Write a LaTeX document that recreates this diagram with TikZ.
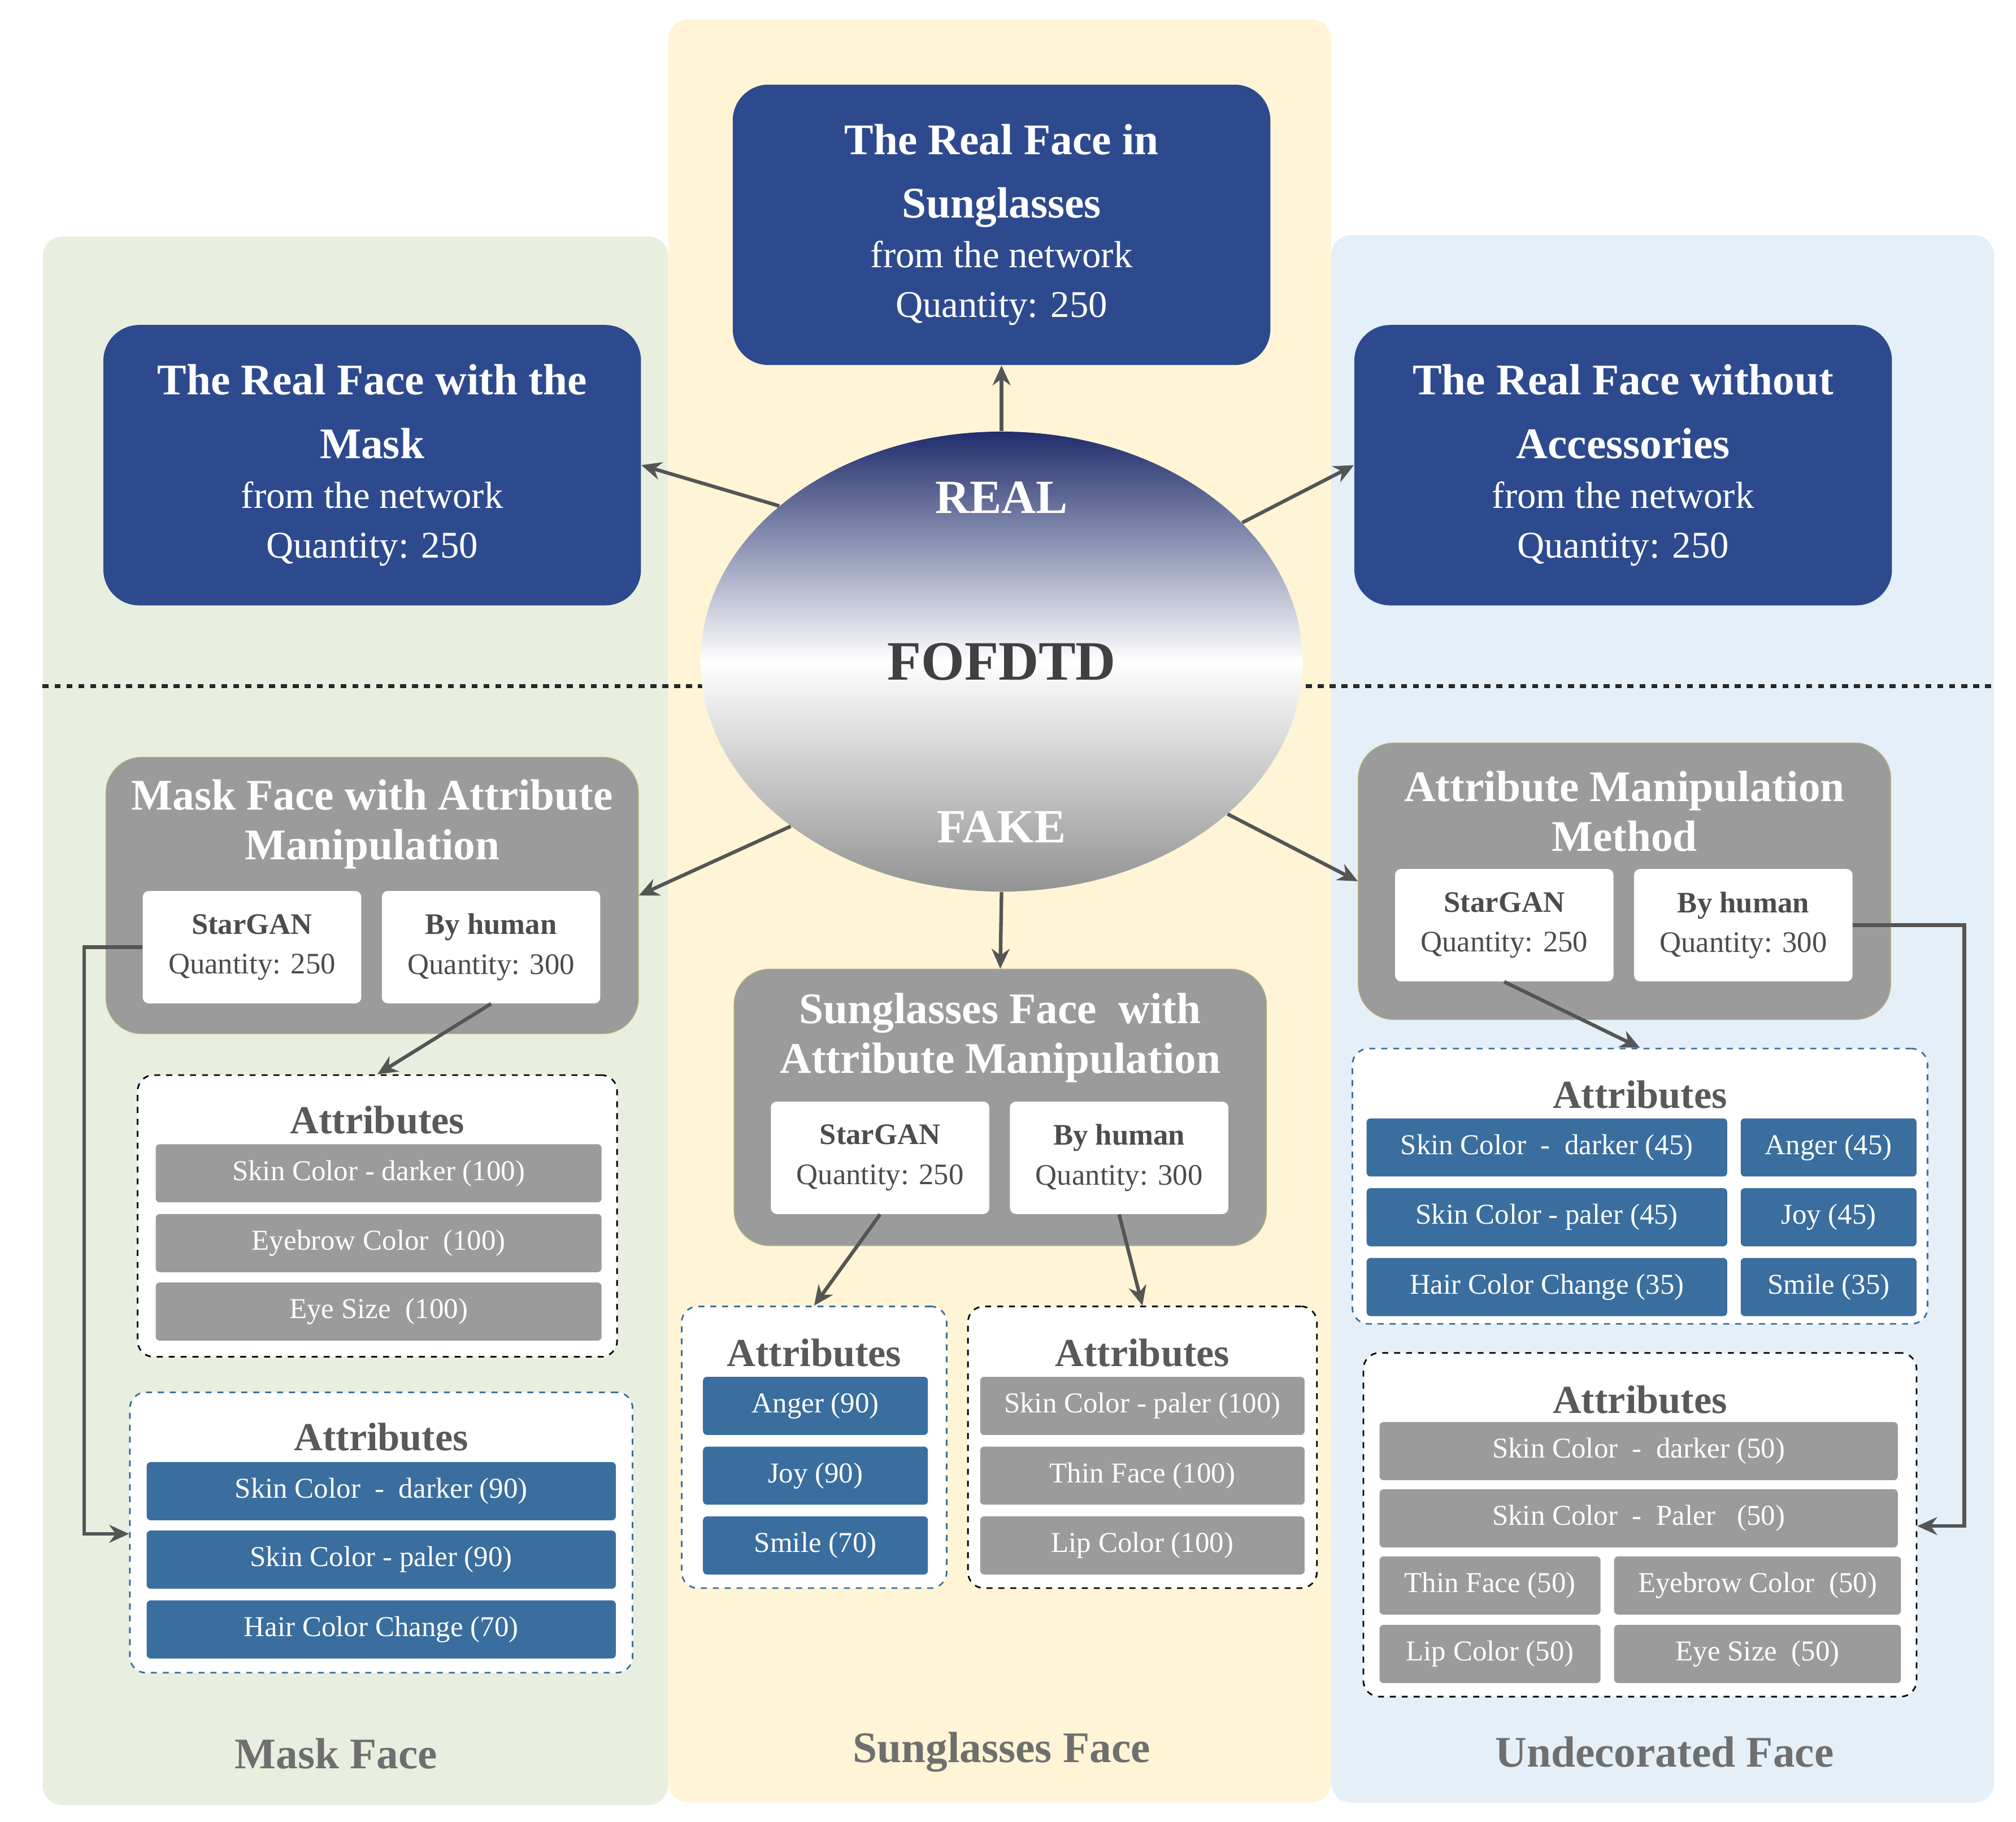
\documentclass[tikz,border=0pt]{standalone}
\usepackage{fontspec}
\setmainfont{Liberation Serif}
\usepackage{xcolor}
\usetikzlibrary{arrows.meta,positioning,shapes.geometric,calc}
\definecolor{navy}{HTML}{2E4A8E}
\definecolor{navytop}{HTML}{1F2D6B}
\definecolor{graybox}{HTML}{9B9B9B}
\definecolor{itemblue}{HTML}{3A6E9E}
\definecolor{bggreen}{HTML}{E9EFDF}
\definecolor{bgyellow}{HTML}{FFF5D6}
\definecolor{bgblue}{HTML}{E4EFF8}
\definecolor{arrowgray}{HTML}{555555}
\definecolor{labelgray}{HTML}{6F6F6F}
\newcommand\tfont{\bfseries\fontsize{22}{25}\selectfont}
\newcommand\nfont{\fontsize{19}{23}\selectfont}
\begin{document}
\begin{tikzpicture}[x=0.2287mm, y=-0.2287mm,
    panel/.style={draw=none, rounded corners=10pt},
    realbox/.style={rectangle, rounded corners=18pt, fill=navy, text=white, minimum width=416*0.2287mm, minimum height=217*0.2287mm, align=center, inner sep=2pt, font=\fontsize{19}{25}\selectfont},
    fakebox/.style={rectangle, rounded corners=18pt, fill=graybox, draw=graybox!80!yellow, minimum width=412*0.2287mm, minimum height=214*0.2287mm},
    whitebox/.style={rectangle, rounded corners=3pt, fill=white, minimum width=169*0.2287mm, minimum height=87*0.2287mm, align=center, text=black!70, font=\fontsize{15}{20}\selectfont},
    attrbox/.style={rectangle, rounded corners=8pt, fill=white, dashed, thick},
    gitem/.style={rectangle, rounded corners=2pt, fill=graybox, text=white, minimum height=45*0.2287mm, font=\fontsize{14.5}{17}\selectfont},
    bitem/.style={gitem, fill=itemblue},
    fttl/.style={text=white, align=center, font=\tfont},
    attrttl/.style={font=\bfseries\fontsize{20}{24}\selectfont, text=black!65},
    arrow/.style={-{Stealth[length=10pt,width=9pt]}, line width=1.8pt, arrowgray}
]
    \useasboundingbox (0,0) rectangle (1560,1410);

    % Backgrounds
    \fill[panel, bggreen] (33,183) rectangle (517,1397);
    \fill[panel, bgyellow] (517,15) rectangle (1030,1395);
    \fill[panel, bgblue] (1030,182) rectangle (1543,1395);
    \draw[line width=2.2pt, dash pattern=on 3pt off 3pt, black!85] (33,531) -- (1543,531);

    % Centre ellipse
    \node[ellipse, minimum width=466*0.2287mm, minimum height=356*0.2287mm, top color=navytop, bottom color=gray!85, middle color=white, shading angle=0] (ell) at (775,512) {};
    \node[font=\bfseries\fontsize{24}{28}\selectfont, text=white] (real) at (775,385) {REAL};
    \node[font=\bfseries\fontsize{28}{32}\selectfont, text=black!75] (name) at (775,512) {FOFDTD};
    \node[font=\bfseries\fontsize{24}{28}\selectfont, text=white] (fake) at (775,640) {FAKE};

    % Real faces
    \node[realbox] (rsun) at (775,174) {\tfont The Real Face in\\[7pt]\tfont Sunglasses\\\nfont from the network\\\nfont Quantity: 250};
    \node[realbox] (rmask) at (288,360) {\tfont The Real Face with the\\[7pt]\tfont Mask\\\nfont from the network\\\nfont Quantity: 250};
    \node[realbox] (rplain) at (1256,360) {\tfont The Real Face without\\[7pt]\tfont Accessories\\\nfont from the network\\\nfont Quantity: 250};

    % Fake faces
    \node[fakebox] (fmask) at (288,693) {};
    \node[fttl] at (288,638) {Mask Face with Attribute\\Manipulation};
    \node[whitebox] (msg) at (195,733) {\textbf{StarGAN}\\Quantity: 250};
    \node[whitebox] (mhu) at (380,733) {\textbf{By human}\\Quantity: 300};

    \node[fakebox] (fsun) at (774,857) {};
    \node[fttl] at (774,803) {Sunglasses Face \ with\\Attribute Manipulation};
    \node[whitebox] (ssg) at (681,896) {\textbf{StarGAN}\\Quantity: 250};
    \node[whitebox] (shu) at (866,896) {\textbf{By human}\\Quantity: 300};

    \node[fakebox] (fplain) at (1257,682) {};
    \node[fttl] at (1257,628) {Attribute Manipulation\\Method};
    \node[whitebox] (psg) at (1164,716) {\textbf{StarGAN}\\Quantity: 250};
    \node[whitebox] (phu) at (1349,716) {\textbf{By human}\\Quantity: 300};

    % Attribute groups, mask
    \node[attrbox, draw=black, minimum width=371*0.2287mm, minimum height=218*0.2287mm] (ma1) at (292,941) {};
    \node[attrttl] at (292,867) {Attributes};
    \node[gitem, minimum width=345*0.2287mm] at (293,908) {Skin Color - darker (100)};
    \node[gitem, minimum width=345*0.2287mm] at (293,962) {Eyebrow Color \ (100)};
    \node[gitem, minimum width=345*0.2287mm] at (293,1015) {Eye Size \ (100)};

    \node[attrbox, draw=itemblue, minimum width=389*0.2287mm, minimum height=217*0.2287mm] (ma2) at (295,1186) {};
    \node[attrttl] at (295,1112) {Attributes};
    \node[bitem, minimum width=363*0.2287mm] at (295,1154) {Skin Color \ - \ darker (90)};
    \node[bitem, minimum width=363*0.2287mm] at (295,1207) {Skin Color - paler (90)};
    \node[bitem, minimum width=363*0.2287mm] at (295,1261) {Hair Color Change (70)};

    % Attribute groups, sunglasses
    \node[attrbox, draw=itemblue, minimum width=205*0.2287mm, minimum height=218*0.2287mm] (sa1) at (630,1120) {};
    \node[attrttl] at (630,1047) {Attributes};
    \node[bitem, minimum width=174*0.2287mm] at (631,1088) {Anger (90)};
    \node[bitem, minimum width=174*0.2287mm] at (631,1142) {Joy (90)};
    \node[bitem, minimum width=174*0.2287mm] at (631,1196) {Smile (70)};

    \node[attrbox, draw=black, minimum width=270*0.2287mm, minimum height=218*0.2287mm] (sa2) at (884,1120) {};
    \node[attrttl] at (884,1047) {Attributes};
    \node[gitem, minimum width=251*0.2287mm] at (884,1088) {Skin Color - paler (100)};
    \node[gitem, minimum width=251*0.2287mm] at (884,1142) {Thin Face (100)};
    \node[gitem, minimum width=251*0.2287mm] at (884,1196) {Lip Color (100)};

    % Attribute groups, undecorated
    \node[attrbox, draw=itemblue, minimum width=445*0.2287mm, minimum height=213*0.2287mm] (pa1) at (1269,918) {};
    \node[attrttl] at (1269,847) {Attributes};
    \node[bitem, minimum width=279*0.2287mm] at (1197,888) {Skin Color \ - \ darker (45)};
    \node[bitem, minimum width=279*0.2287mm] at (1197,942) {Skin Color - paler (45)};
    \node[bitem, minimum width=279*0.2287mm] at (1197,996) {Hair Color Change (35)};
    \node[bitem, minimum width=136*0.2287mm] at (1415,888) {Anger (45)};
    \node[bitem, minimum width=136*0.2287mm] at (1415,942) {Joy (45)};
    \node[bitem, minimum width=136*0.2287mm] at (1415,996) {Smile (35)};

    \node[attrbox, draw=black, minimum width=428*0.2287mm, minimum height=266*0.2287mm] (pa2) at (1269,1180) {};
    \node[attrttl] at (1269,1083) {Attributes};
    \node[gitem, minimum width=401*0.2287mm] at (1268,1123) {Skin Color \ - \ darker (50)};
    \node[gitem, minimum width=401*0.2287mm] at (1268,1175) {Skin Color \ - \ Paler \ \ (50)};
    \node[gitem, minimum width=171*0.2287mm] at (1153,1227) {Thin Face (50)};
    \node[gitem, minimum width=171*0.2287mm] at (1153,1280) {Lip Color (50)};
    \node[gitem, minimum width=222*0.2287mm] at (1360,1227) {Eyebrow Color \ (50)};
    \node[gitem, minimum width=222*0.2287mm] at (1360,1280) {Eye Size \ (50)};

    % Panel labels
    \node[font=\bfseries\fontsize{22}{26}\selectfont, text=labelgray] (lmask) at (260,1357) {Mask Face};
    \node[font=\bfseries\fontsize{22}{26}\selectfont, text=labelgray] (lsun) at (775,1356) {Sunglasses Face};
    \node[font=\bfseries\fontsize{22}{26}\selectfont, text=labelgray] (lplain) at (1288,1356) {Undecorated Face};

    % Arrows
    \coordinate (m1) at (65,733);
    \coordinate (m2) at (65,1187);
    \coordinate (p1) at (1520,716);
    \coordinate (p2) at (1520,1181);
    \draw[arrow] (ell.north) -- (rsun.south);
    \draw[arrow] (ell.145) -- (rmask.east);
    \draw[arrow] (ell.30) -- (rplain.west);
    \draw[arrow] (ell.218) -- (fmask.east);
    \draw[arrow] (ell.south) -- (fsun.north);
    \draw[arrow] (ell.-34) -- (fplain.west);
    \draw[arrow] (mhu.south) -- (ma1.north);
    \draw[arrow] (ssg.south) -- (sa1.north);
    \draw[arrow] (shu.south) -- (sa2.north);
    \draw[arrow] (psg.south) -- (pa1.north);
    \draw[arrow] (msg.west) -- (m1) -- (m2) -- (ma2.west |- m2);
    \draw[arrow] (phu.east) -- (p1) -- (p2) -- (pa2.east |- p2);
\end{tikzpicture}
\end{document}
